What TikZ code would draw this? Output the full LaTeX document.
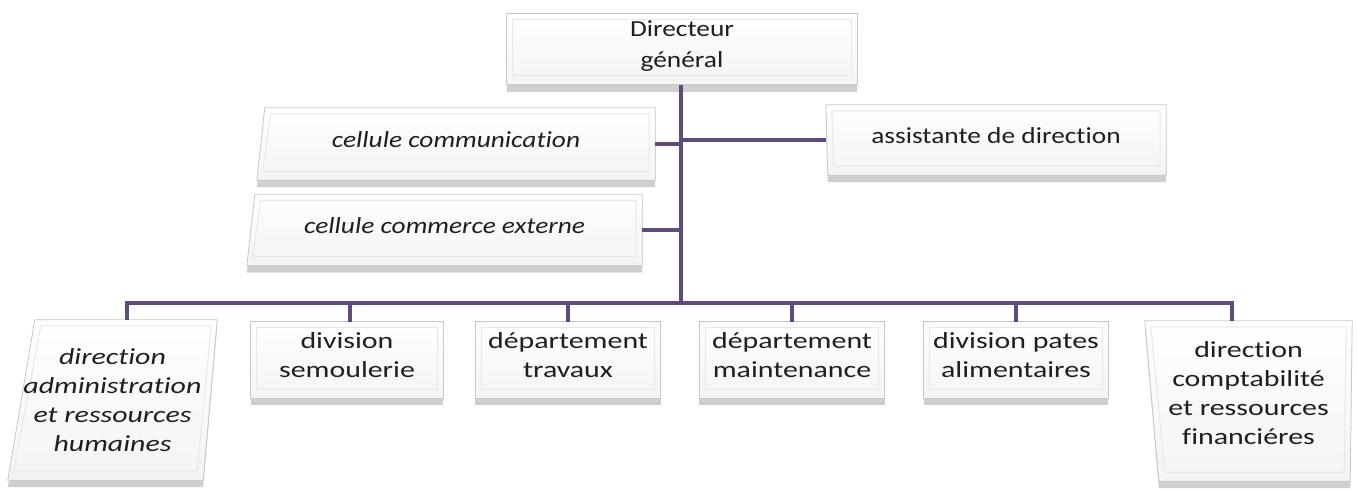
\documentclass[tikz,border=0pt]{standalone}
\usepackage{fontspec}
\setmainfont{Carlito}[Ligatures=NoCommon]
\newfontfamily\headfont{Carlito}[FakeStretch=1.19, Ligatures=NoCommon]
\newfontfamily\rowfont{Carlito}[FakeStretch=1.3, Ligatures=NoCommon]
\usetikzlibrary{shadows,backgrounds}
\definecolor{orgline}{RGB}{96,74,123}
\definecolor{boxrim}{RGB}{200,200,200}
\definecolor{bevelline}{RGB}{232,232,232}
\tikzset{
  % text area of a unit; the bevelled slab is drawn behind it
  unit/.style={inner sep=0pt, align=center, text=black!88},
  topunit/.style={unit, text depth=9pt, font=\headfont\fontsize{23}{31}\selectfont},
  midunit/.style={unit, text depth=8pt, font=\headfont\fontsize{23}{28}\selectfont},
  miditunit/.style={midunit, font=\headfont\fontsize{23}{28}\selectfont\itshape},
  rowunit/.style={unit, text depth=10pt, font=\rowfont\fontsize{23}{29}\selectfont},
  rowitunit/.style={unit, font=\rowfont\fontsize{23}{29}\selectfont\itshape},
  slabface/.style={draw=boxrim, line width=0.8pt,
    top color=white, bottom color=gray!9,
    drop shadow={shadow xshift=0pt, shadow yshift=-7pt, opacity=0.5, fill=gray!75}},
  slabbevel/.style={draw=bevelline, line width=1pt},
  link/.style={draw=orgline, line width=4pt}
}
% slab behind node #1; #2..#5 move the corners sideways:
% top left, top right, bottom right, bottom left
\newcommand\drawslab[5]{%
  \path[slabface] ([xshift=#2]#1.north west) -- ([xshift=#3]#1.north east)
    -- ([xshift=#4]#1.south east) -- ([xshift=#5]#1.south west) -- cycle;
  \draw[slabbevel] ([shift={(#2+6,6)}]#1.north west) -- ([shift={(#3-6,6)}]#1.north east)
    -- ([shift={(#4-6,-9)}]#1.south east) -- ([shift={(#5+6,-9)}]#1.south west) -- cycle;
}
\begin{document}
\begin{tikzpicture}[x=1pt, y=-1pt]
  \useasboundingbox (0,0) rectangle (1357,490);

  % head of the organisation
  \node[topunit, minimum width=350, minimum height=71] (dg) at (682,49) {Directeur\\général};

  % staff units beside the general manager
  \node[miditunit, minimum width=398, minimum height=72] (comm) at (456,144) {cellule communication};
  \node[miditunit, minimum width=395, minimum height=71] (ext) at (444.5,230) {cellule commerce externe};
  \node[midunit, minimum width=340, minimum height=70] (asst) at (996,140) {assistante de direction};

  % operational units
  \node[rowitunit, minimum width=209, minimum height=160] (b1) at (112.5,400)
    {direction\\administration\\et ressources\\humaines};
  \node[rowunit, minimum width=192, minimum height=76] (b2) at (347,360) {division\\semoulerie};
  \node[rowunit, minimum width=185, minimum height=76] (b3) at (568,360) {département\\travaux};
  \node[rowunit, minimum width=185, minimum height=76] (b4) at (792,360) {département\\maintenance};
  \node[rowunit, minimum width=184, minimum height=76] (b5) at (1016,360) {division pates\\alimentaires};
  \node[rowunit, text depth=16pt, minimum width=207, minimum height=160] (b6) at (1248.5,401)
    {direction\\comptabilité\\et ressources\\financiéres};

  % bevelled slabs
  \begin{scope}[on background layer]
    \drawslab{dg}{0}{0}{0}{0}
    \drawslab{comm}{8}{0}{0}{0}
    \drawslab{ext}{8}{0}{0}{0}
    \drawslab{asst}{0}{0}{0}{2}
    \drawslab{b1}{27}{0}{-14}{0}
    \drawslab{b2}{0}{0}{0}{0}
    \drawslab{b3}{0}{0}{0}{0}
    \drawslab{b4}{0}{0}{0}{0}
    \drawslab{b5}{0}{0}{0}{0}
    \drawslab{b6}{0}{0}{-2}{14}
  \end{scope}

  % connectors
  \coordinate (bus) at (681,303);
  \draw[link] (dg.south -| bus) -- (bus);
  \draw[link] (comm.east) -- (comm.east -| bus);
  \draw[link] (ext.east) -- (ext.east -| bus);
  \draw[link] (asst.west) -- (asst.west -| bus);
  \draw[link] ([xshift=14.5pt]b1.north) |- (bus) -| ([xshift=-16.5pt]b6.north);
  \draw[link] ([xshift=3pt]b2.north) -- ([xshift=3pt]b2.north |- bus);
  \draw[link] (b3.north) -- (b3.north |- bus);
  \draw[link] (b4.north) -- (b4.north |- bus);
  \draw[link] (b5.north) -- (b5.north |- bus);
\end{tikzpicture}
\end{document}
